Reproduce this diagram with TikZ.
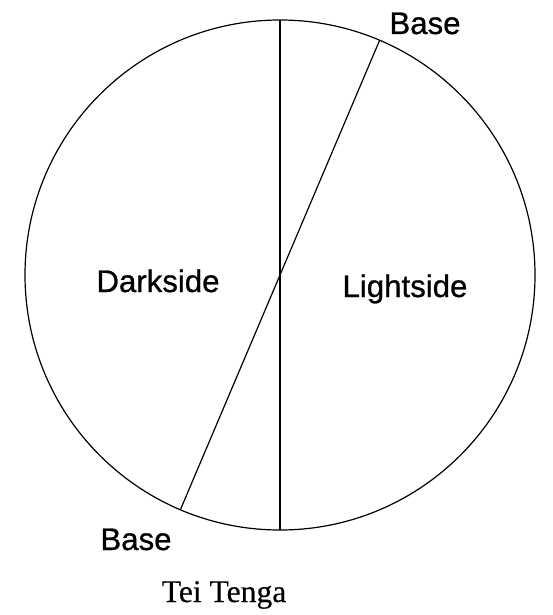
\documentclass[tikz,border=0pt]{standalone}
\usepackage{fontspec}
\setmainfont[FakeBold=0.3]{Liberation Serif}
\newfontfamily\labelfont[FakeBold=0.8]{Liberation Sans}
\usetikzlibrary{positioning}

\begin{document}
\begin{tikzpicture}[x=0.5pt,y=-0.5pt,line width=0.6pt]
\tikzstyle{sidetext}=[font=\labelfont\fontsize{15.6}{18}\selectfont,anchor=base,inner sep=0pt]
\tikzstyle{titletext}=[font=\fontsize{15.8}{18}\selectfont,anchor=base,inner sep=0pt]
\useasboundingbox (0,0) rectangle (552,615);
\node[draw,circle,minimum size=255pt,inner sep=0pt,outer sep=0pt] (disc) at (280,275) {};
\draw (disc.north) -- (disc.south);
\draw (disc.67) -- (disc.247);
\node[sidetext] (dark) at (158,292) {Darkside};
\node[sidetext] (light) at (405,297) {Lightside};
\node[sidetext] (topbase) at (425,34) {Base};
\node[sidetext] (botbase) at (136,550) {Base};
\node[titletext] (title) at (224,602) {Tei Tenga};
\end{tikzpicture}
\end{document}
